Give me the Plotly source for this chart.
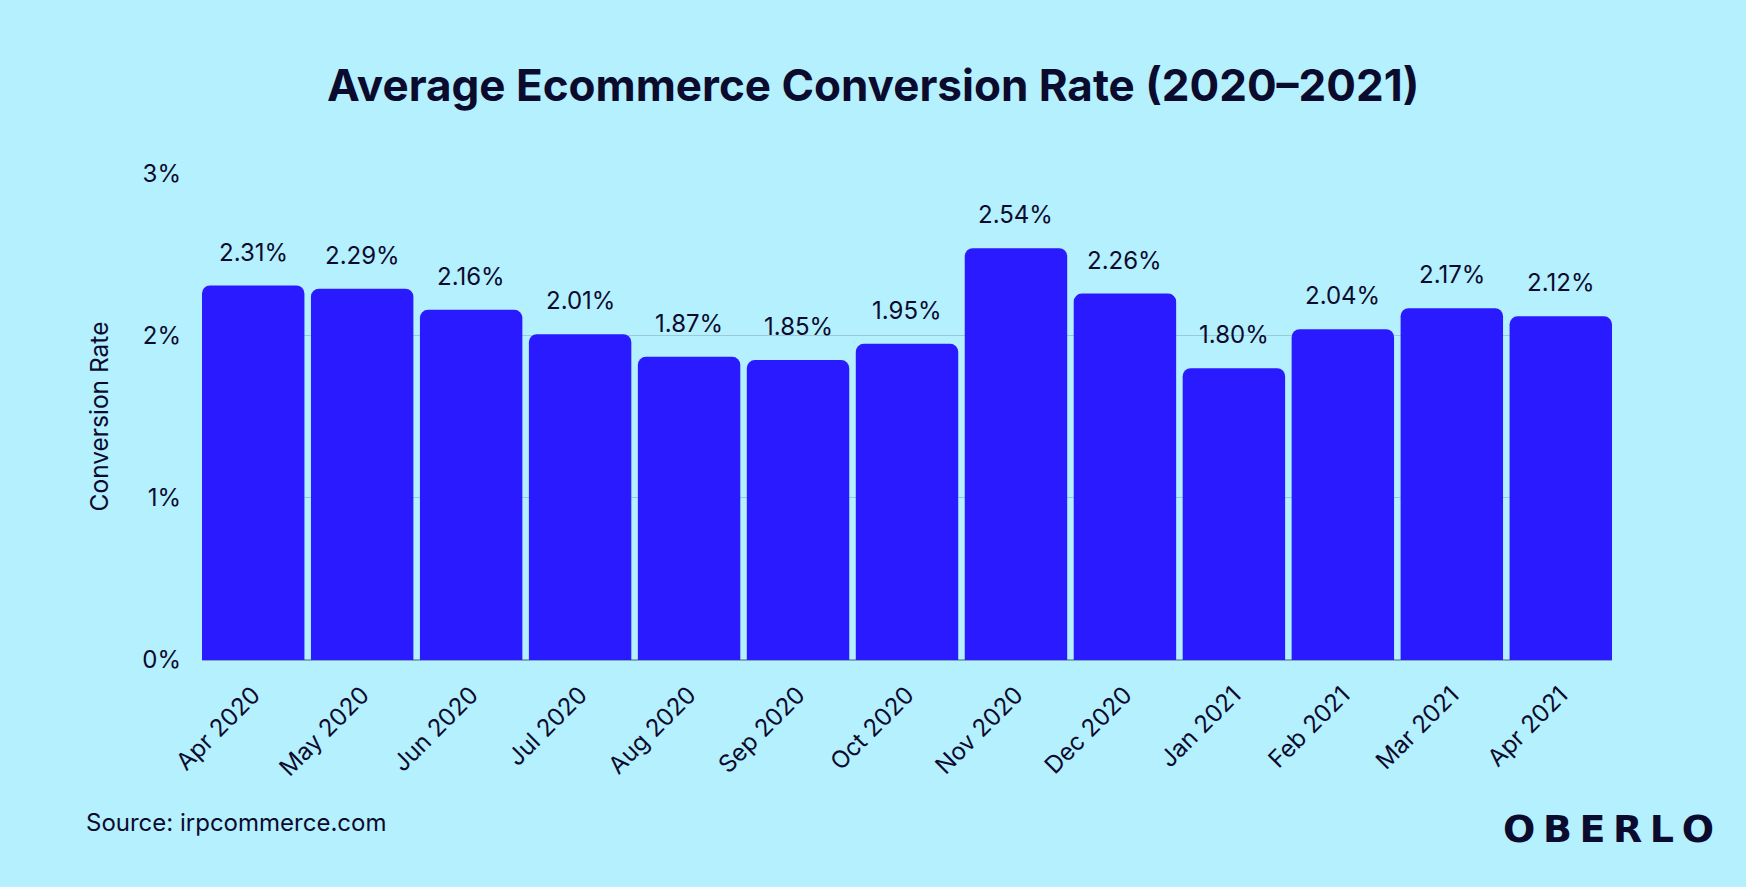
import plotly.graph_objects as go

months = ["Apr 2020", "May 2020", "Jun 2020", "Jul 2020", "Aug 2020", "Sep 2020",
          "Oct 2020", "Nov 2020", "Dec 2020", "Jan 2021", "Feb 2021", "Mar 2021", "Apr 2021"]
rates = [2.31, 2.29, 2.16, 2.01, 1.87, 1.85, 1.95, 2.54, 2.26, 1.80, 2.04, 2.17, 2.12]
labels = [f"{v:.2f}%" for v in rates]
ytick_vals = [0, 1, 2, 3]
ytick_text = ["0%", "1%", "2%", "3%"]

BG = "#b5f0ff"
BAR = "#2a1aff"
INK = "#0b0b2e"
FONT = "Inter"

fig = go.Figure()
fig.add_trace(go.Bar(
    x=list(range(len(months))), y=rates,
    marker=dict(color=BAR, line=dict(width=0), cornerradius=8),
    hoverinfo="skip",
))

annotations = []
for i, (v, t) in enumerate(zip(rates, labels)):
    annotations.append(dict(x=i, y=v, text=t, showarrow=False, yanchor="bottom",
                            yshift=17, font=dict(family=FONT, size=24, color=INK)))

annotations.append(dict(text="<b>Average Ecommerce Conversion Rate (2020–2021)</b>",
                        xref="paper", yref="paper", x=0.5, y=1, xanchor="center", yanchor="middle",
                        showarrow=False, font=dict(family=FONT, size=44, color=INK),
                        xshift=(873 - (202 + 1612) / 2), yshift=173 - 85))
annotations.append(dict(text="Source: irpcommerce.com", xref="paper", yref="paper",
                        x=0, y=0, xanchor="left", yanchor="middle", showarrow=False,
                        xshift=84 - 202, yshift=-(822 - 660),
                        font=dict(family=FONT, size=24, color=INK)))
annotations.append(dict(text="<b>O\u2009B\u2009E\u2009R\u2009L\u2009O</b>", xref="paper", yref="paper",
                        x=1, y=0, xanchor="right", yanchor="middle", showarrow=False,
                        xshift=1716 - 1612, yshift=-(829 - 660),
                        font=dict(family="DejaVu Sans", size=38, color=INK, weight=900)))

fig.update_layout(
    width=1746, height=887,
    paper_bgcolor=BG, plot_bgcolor=BG,
    margin=dict(l=202, r=134, t=173, b=227),
    bargap=0.06,
    showlegend=False,
    annotations=annotations,
    font=dict(family=FONT, color=INK),
    xaxis=dict(tickmode="array", tickvals=list(range(len(months))), ticktext=months,
               tickangle=-45, range=[-0.47, 12.47], showgrid=False, showline=False,
               zeroline=False, ticks="", ticklabelstandoff=15,
               tickfont=dict(family=FONT, size=24, color=INK)),
    yaxis=dict(range=[0, 3.004], tickmode="array", tickvals=ytick_vals, ticktext=ytick_text,
               showgrid=True, gridcolor="#9cc9d6", gridwidth=1, zeroline=True,
               zerolinecolor="#7fa9b8", zerolinewidth=1.5, showline=False, ticks="",
               ticklabelstandoff=20, tickfont=dict(family=FONT, size=24, color=INK),
               title=dict(text="Conversion Rate", font=dict(family=FONT, size=24.5, color=INK),
                          standoff=26)),
)

fig.write_html("out.html", config={"displayModeBar": False},
               post_script="document.body.style.margin='0';document.body.style.background='#b5f0ff';")
